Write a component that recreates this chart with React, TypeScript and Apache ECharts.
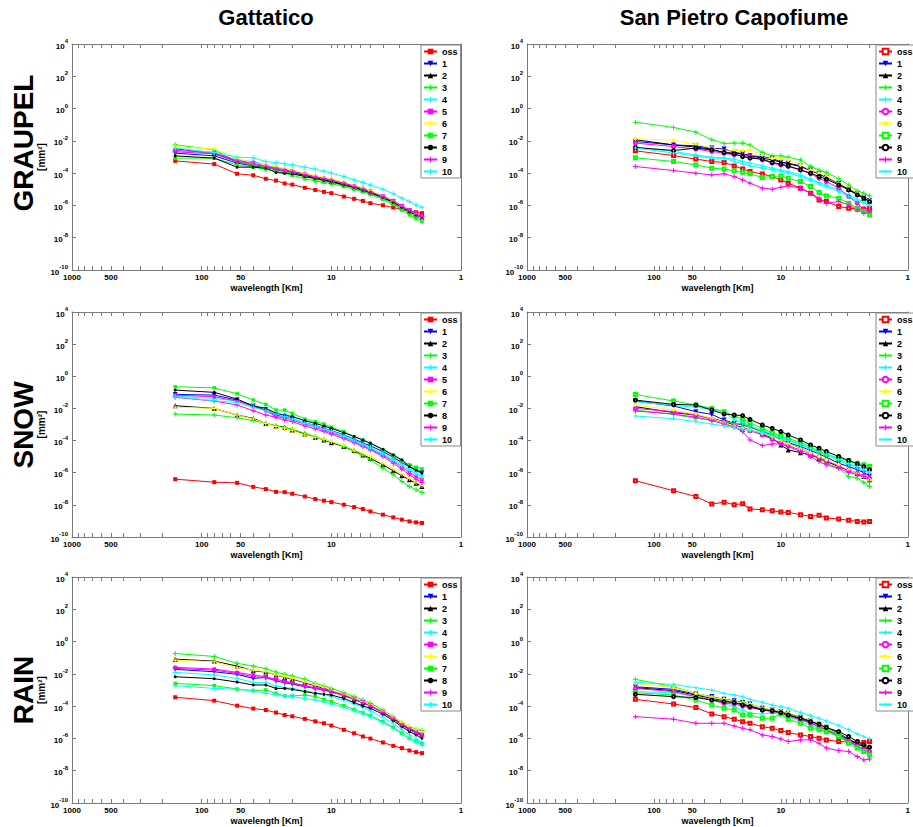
import React, { useEffect, useRef } from "react";
import * as echarts from "echarts";

// ---------- data ----------
const seriesNames = ["oss", "1", "2", "3", "4", "5", "6", "7", "8", "9", "10"];

// wavelengths [Km] of the plotted spectral points
const wavelengthGattatico = [160, 80, 53.3, 40, 32, 26.7, 22.9, 20, 16, 13.3, 11.4, 10, 8, 6.67, 5.71, 5, 4, 3.33, 2.86, 2.5, 2.22, 2];
const wavelengthSanPietro = [140, 70, 46.7, 35, 28, 23.3, 20, 17.5, 14, 11.7, 10, 8.75, 7, 5.83, 5, 4.38, 3.5, 2.92, 2.5, 2.22, 2];

const xLabelValues = [1000, 500, 100, 50, 10, 1];
const xTickValues = [1, 2, 3, 4, 5, 6, 7, 8, 9, 10, 20, 30, 40, 50, 60, 70, 80, 90, 100, 200, 300, 400, 500, 600, 700, 800, 900, 1000];
const yLabelExponents = [4, 2, 0, -2, -4, -6, -8, -10];

// log10 of the spectrum [mm^2]; rows: oss, 1 .. 10
const graupelGattatico = [
  [-3.24, -3.44, -4.04, -4.13, -4.35, -4.46, -4.64, -4.71, -4.91, -5.04, -5.16, -5.24, -5.45, -5.59, -5.72, -5.86, -5.99, -6.13, -6.24, -6.34, -6.42, -6.48],
  [-2.76, -2.93, -3.38, -3.55, -3.63, -3.80, -3.90, -3.96, -4.15, -4.29, -4.42, -4.52, -4.69, -4.87, -5.04, -5.20, -5.49, -5.78, -6.07, -6.34, -6.55, -6.71],
  [-2.49, -2.80, -3.28, -3.49, -3.59, -3.75, -3.88, -3.96, -4.15, -4.29, -4.42, -4.52, -4.69, -4.87, -5.04, -5.20, -5.49, -5.80, -6.11, -6.38, -6.59, -6.75],
  [-2.24, -2.56, -3.28, -3.49, -3.63, -3.75, -3.90, -4.00, -4.21, -4.37, -4.50, -4.58, -4.75, -4.93, -5.10, -5.28, -5.59, -5.91, -6.22, -6.48, -6.69, -6.86],
  [-2.56, -2.76, -3.18, -3.28, -3.49, -3.63, -3.75, -3.88, -4.04, -4.21, -4.31, -4.42, -4.62, -4.79, -4.95, -5.14, -5.45, -5.76, -6.07, -6.34, -6.55, -6.73],
  [-2.60, -2.72, -3.22, -3.34, -3.55, -3.69, -3.80, -3.90, -4.04, -4.21, -4.33, -4.42, -4.62, -4.79, -4.95, -5.12, -5.41, -5.70, -6.01, -6.28, -6.48, -6.65],
  [-2.35, -2.51, -3.07, -3.38, -3.49, -3.59, -3.69, -3.80, -4.00, -4.15, -4.25, -4.35, -4.54, -4.73, -4.89, -5.08, -5.41, -5.72, -6.03, -6.32, -6.55, -6.73],
  [-3.07, -3.07, -3.49, -3.63, -3.75, -3.90, -4.00, -4.13, -4.35, -4.48, -4.58, -4.66, -4.83, -5.00, -5.16, -5.33, -5.62, -5.93, -6.28, -6.59, -6.82, -7.00],
  [-2.93, -3.07, -3.63, -3.63, -3.69, -3.96, -4.00, -4.04, -4.21, -4.33, -4.44, -4.54, -4.73, -4.89, -5.06, -5.22, -5.51, -5.82, -6.13, -6.40, -6.61, -6.75],
  [-2.68, -2.80, -3.28, -3.38, -3.59, -3.75, -3.84, -3.90, -4.11, -4.25, -4.35, -4.44, -4.64, -4.83, -5.00, -5.16, -5.45, -5.74, -6.05, -6.32, -6.53, -6.69],
  [-2.45, -2.72, -3.01, -3.05, -3.28, -3.36, -3.42, -3.49, -3.63, -3.75, -3.88, -4.00, -4.21, -4.42, -4.58, -4.73, -5.00, -5.28, -5.55, -5.76, -5.97, -6.11],
];

const graupelSanPietro = [
  [-2.62, -2.91, -3.13, -3.28, -3.34, -3.55, -3.75, -3.90, -4.06, -4.21, -4.42, -4.62, -4.93, -5.24, -5.66, -5.76, -6.07, -6.17, -6.22, -6.22, -6.17],
  [-2.04, -2.25, -2.31, -2.45, -2.51, -2.70, -2.80, -2.93, -2.97, -3.07, -3.32, -3.38, -3.55, -3.80, -4.04, -4.25, -4.62, -5.00, -5.28, -5.49, -5.70],
  [-1.93, -2.25, -2.39, -2.51, -2.72, -2.76, -2.82, -2.93, -3.07, -3.18, -3.32, -3.42, -3.59, -3.84, -4.06, -4.27, -4.66, -5.00, -5.28, -5.55, -5.76],
  [-0.84, -1.17, -1.46, -1.93, -2.16, -2.14, -2.14, -2.25, -2.72, -2.93, -2.93, -3.01, -3.18, -3.59, -3.80, -3.96, -4.35, -4.73, -5.10, -5.24, -5.41],
  [-2.39, -2.66, -2.87, -3.01, -3.07, -3.13, -3.28, -3.38, -3.55, -3.69, -3.80, -3.90, -4.11, -4.37, -4.58, -4.73, -5.04, -5.35, -5.62, -5.76, -5.91],
  [-2.14, -2.35, -2.51, -2.66, -2.76, -2.87, -2.93, -2.97, -3.18, -3.38, -3.49, -3.59, -3.80, -4.04, -4.31, -4.52, -4.93, -5.45, -5.86, -6.28, -6.38],
  [-1.87, -1.96, -2.20, -2.45, -2.66, -2.60, -2.60, -2.56, -2.87, -3.07, -3.13, -3.18, -3.49, -3.80, -4.00, -4.21, -4.62, -4.93, -5.24, -5.45, -5.66],
  [-3.05, -3.28, -3.49, -3.69, -3.75, -3.86, -3.94, -4.04, -4.27, -4.21, -4.17, -4.31, -4.52, -4.83, -5.20, -5.41, -5.55, -5.86, -6.17, -6.38, -6.59],
  [-2.41, -2.60, -2.45, -2.56, -2.72, -2.80, -2.97, -3.07, -3.13, -3.34, -3.44, -3.55, -3.80, -4.00, -4.21, -4.37, -4.73, -5.04, -5.35, -5.55, -5.76],
  [-3.59, -3.84, -4.00, -4.11, -4.04, -4.21, -4.42, -4.62, -4.93, -5.00, -4.87, -4.79, -4.93, -5.24, -5.55, -5.86, -5.76, -5.97, -6.28, -6.48, -6.38],
  [-2.45, -2.76, -2.93, -3.07, -3.07, -3.28, -3.42, -3.55, -3.69, -3.80, -3.90, -4.00, -4.21, -4.46, -4.66, -4.83, -5.14, -5.45, -5.70, -5.86, -6.03],
];

const snowGattatico = [
  [-6.40, -6.59, -6.63, -6.88, -7.02, -7.19, -7.21, -7.31, -7.48, -7.64, -7.74, -7.83, -7.99, -8.14, -8.26, -8.41, -8.61, -8.78, -8.92, -9.03, -9.09, -9.13],
  [-1.13, -1.17, -1.48, -1.85, -2.10, -2.41, -2.51, -2.66, -2.89, -3.07, -3.24, -3.38, -3.65, -3.92, -4.13, -4.33, -4.68, -5.04, -5.37, -5.62, -5.82, -5.99],
  [-1.83, -2.00, -2.41, -2.62, -2.93, -3.09, -3.17, -3.34, -3.59, -3.79, -3.96, -4.13, -4.37, -4.62, -4.89, -5.10, -5.51, -5.88, -6.19, -6.44, -6.65, -6.86],
  [-2.35, -2.41, -2.58, -2.76, -2.93, -3.09, -3.20, -3.30, -3.55, -3.75, -3.92, -4.06, -4.37, -4.68, -4.95, -5.20, -5.72, -6.13, -6.55, -6.86, -7.06, -7.23],
  [-1.23, -1.38, -1.54, -1.79, -2.00, -2.31, -2.41, -2.62, -2.89, -3.09, -3.26, -3.40, -3.69, -3.96, -4.21, -4.42, -4.79, -5.16, -5.47, -5.76, -5.97, -6.17],
  [-1.17, -1.27, -1.54, -1.89, -2.14, -2.51, -2.58, -2.72, -2.99, -3.17, -3.34, -3.51, -3.79, -4.06, -4.31, -4.52, -4.91, -5.30, -5.66, -5.97, -6.24, -6.44],
  [-1.93, -2.00, -2.41, -2.66, -2.93, -3.13, -3.24, -3.38, -3.65, -3.79, -3.92, -4.06, -4.31, -4.58, -4.79, -4.99, -5.41, -5.76, -6.07, -6.34, -6.59, -6.79],
  [-0.65, -0.72, -1.09, -1.48, -1.75, -2.10, -2.10, -2.31, -2.66, -2.82, -2.97, -3.17, -3.44, -3.75, -3.96, -4.17, -4.58, -4.95, -5.26, -5.51, -5.66, -5.76],
  [-0.86, -1.00, -1.42, -1.85, -2.00, -2.31, -2.41, -2.51, -2.76, -2.93, -3.09, -3.24, -3.51, -3.75, -3.96, -4.17, -4.54, -4.89, -5.20, -5.62, -5.86, -6.03],
  [-1.31, -1.54, -1.79, -2.14, -2.41, -2.55, -2.72, -2.82, -3.09, -3.28, -3.44, -3.59, -3.88, -4.13, -4.37, -4.58, -4.99, -5.41, -5.78, -6.13, -6.40, -6.61],
  [-1.27, -1.52, -1.64, -1.93, -2.14, -2.35, -2.51, -2.68, -2.93, -3.13, -3.30, -3.44, -3.75, -4.02, -4.27, -4.48, -4.85, -5.24, -5.57, -5.86, -6.07, -6.28],
];

const snowSanPietro = [
  [-6.50, -7.12, -7.48, -7.95, -7.83, -7.99, -7.93, -8.26, -8.30, -8.37, -8.45, -8.47, -8.61, -8.72, -8.65, -8.82, -8.88, -8.96, -9.03, -9.07, -9.03],
  [-1.54, -1.85, -2.20, -2.37, -2.72, -2.93, -3.03, -3.17, -3.44, -3.65, -3.96, -4.13, -4.37, -4.62, -4.83, -5.04, -5.41, -5.62, -5.82, -5.99, -6.19],
  [-1.89, -2.26, -2.41, -2.62, -2.82, -3.03, -3.20, -3.34, -3.59, -3.86, -4.27, -4.58, -4.75, -4.89, -5.10, -5.30, -5.62, -5.86, -6.07, -6.24, -6.44],
  [-2.10, -2.37, -2.62, -2.72, -2.82, -2.93, -2.97, -3.13, -3.44, -3.75, -3.96, -4.17, -4.48, -4.79, -5.10, -5.41, -5.72, -6.24, -6.34, -6.61, -6.86],
  [-1.58, -1.81, -1.93, -2.06, -2.22, -2.72, -2.89, -3.09, -3.38, -3.59, -3.79, -3.96, -4.23, -4.52, -4.75, -4.91, -5.24, -5.51, -5.72, -5.86, -6.03],
  [-2.00, -2.20, -2.41, -2.68, -2.89, -3.09, -3.24, -3.38, -3.65, -3.92, -4.13, -4.33, -4.58, -4.83, -5.04, -5.24, -5.57, -5.82, -6.03, -6.19, -6.34],
  [-1.79, -2.10, -2.35, -2.62, -2.89, -3.09, -3.24, -3.34, -3.55, -3.75, -4.00, -4.21, -4.54, -4.79, -4.99, -5.20, -5.51, -5.82, -6.07, -6.24, -6.44],
  [-1.13, -1.54, -1.79, -2.00, -2.20, -2.47, -2.68, -2.89, -3.24, -3.51, -3.71, -3.86, -4.13, -4.37, -4.68, -4.83, -5.10, -5.26, -5.41, -5.51, -5.62],
  [-1.48, -1.75, -1.79, -2.10, -2.35, -2.41, -2.45, -2.68, -3.03, -3.24, -3.44, -3.65, -3.96, -4.27, -4.48, -4.68, -4.99, -5.24, -5.45, -5.62, -5.82],
  [-2.16, -2.35, -2.55, -2.76, -2.97, -3.17, -3.44, -3.96, -4.31, -4.21, -4.21, -4.37, -4.68, -4.99, -5.30, -5.51, -5.72, -5.99, -6.13, -6.24, -6.55],
  [-2.47, -2.64, -2.82, -2.97, -3.09, -3.20, -3.28, -3.38, -3.51, -3.71, -3.86, -4.00, -4.27, -4.48, -4.68, -4.83, -5.16, -5.41, -5.62, -5.78, -5.93],
];

const rainGattatico = [
  [-3.45, -3.66, -3.97, -4.15, -4.24, -4.40, -4.55, -4.63, -4.79, -4.94, -5.06, -5.20, -5.47, -5.68, -5.88, -6.01, -6.25, -6.46, -6.60, -6.75, -6.85, -6.91],
  [-1.72, -1.87, -2.03, -2.28, -2.22, -2.43, -2.55, -2.63, -2.80, -2.90, -3.00, -3.10, -3.31, -3.58, -3.78, -3.99, -4.38, -4.79, -5.16, -5.43, -5.64, -5.82],
  [-1.09, -1.21, -1.52, -1.81, -1.89, -2.07, -2.22, -2.32, -2.55, -2.75, -2.90, -3.04, -3.31, -3.58, -3.78, -3.97, -4.38, -4.75, -5.10, -5.37, -5.58, -5.72],
  [-0.74, -0.92, -1.35, -1.52, -1.68, -1.89, -2.03, -2.14, -2.32, -2.59, -2.75, -2.90, -3.17, -3.41, -3.62, -3.82, -4.24, -4.65, -5.00, -5.27, -5.43, -5.51],
  [-1.91, -2.07, -2.28, -2.53, -2.53, -2.75, -2.84, -2.90, -3.04, -3.17, -3.27, -3.41, -3.62, -3.87, -4.07, -4.28, -4.69, -5.06, -5.47, -5.78, -6.03, -6.25],
  [-1.60, -1.70, -1.91, -2.07, -2.18, -2.34, -2.45, -2.55, -2.73, -2.86, -2.96, -3.06, -3.27, -3.52, -3.74, -3.95, -4.34, -4.73, -5.10, -5.37, -5.58, -5.72],
  [-1.15, -1.25, -1.62, -1.77, -1.87, -2.07, -2.18, -2.28, -2.51, -2.69, -2.84, -3.00, -3.25, -3.50, -3.72, -3.91, -4.30, -4.67, -5.02, -5.27, -5.47, -5.60],
  [-2.59, -2.73, -2.94, -3.04, -3.00, -3.21, -3.37, -3.37, -3.31, -3.41, -3.58, -3.72, -3.97, -4.20, -4.40, -4.59, -4.96, -5.31, -5.68, -5.99, -6.19, -6.36],
  [-2.18, -2.30, -2.51, -2.69, -2.69, -2.90, -2.90, -2.96, -3.10, -3.21, -3.27, -3.31, -3.52, -3.78, -3.99, -4.13, -4.50, -4.90, -5.27, -5.58, -5.78, -5.99],
  [-1.66, -1.77, -1.97, -2.18, -2.22, -2.43, -2.51, -2.59, -2.75, -2.90, -3.00, -3.13, -3.35, -3.58, -3.78, -3.99, -4.40, -4.81, -5.18, -5.47, -5.68, -5.84],
  [-2.73, -2.90, -2.96, -3.04, -3.21, -3.29, -3.37, -3.41, -3.52, -3.62, -3.74, -3.87, -4.07, -4.30, -4.48, -4.65, -5.02, -5.37, -5.72, -6.03, -6.23, -6.40],
];

const rainSanPietro = [
  [-3.58, -3.87, -4.09, -4.48, -4.65, -4.81, -4.96, -5.06, -5.27, -5.37, -5.51, -5.64, -5.78, -5.88, -5.99, -6.09, -6.19, -6.23, -6.25, -6.25, -6.19],
  [-2.80, -2.96, -3.25, -3.41, -3.58, -3.66, -3.78, -3.87, -4.13, -4.24, -4.34, -4.44, -4.69, -4.92, -5.12, -5.31, -5.68, -6.05, -6.30, -6.50, -6.71],
  [-2.86, -3.04, -3.31, -3.52, -3.66, -3.78, -3.87, -3.99, -4.20, -4.28, -4.40, -4.55, -4.81, -5.02, -5.27, -5.47, -5.78, -6.09, -6.36, -6.50, -6.71],
  [-2.34, -2.80, -3.21, -3.45, -3.62, -3.72, -3.78, -3.87, -4.13, -4.24, -4.34, -4.48, -4.75, -5.00, -5.20, -5.43, -5.78, -6.19, -6.46, -6.71, -6.91],
  [-3.10, -3.17, -3.41, -3.62, -3.87, -4.03, -4.24, -4.44, -4.48, -4.40, -4.55, -4.65, -4.96, -5.16, -5.37, -5.58, -5.88, -6.25, -6.50, -6.71, -6.87],
  [-2.90, -3.10, -3.41, -3.62, -3.82, -3.87, -3.99, -4.09, -4.24, -4.34, -4.44, -4.61, -4.85, -5.06, -5.27, -5.47, -5.88, -6.19, -6.46, -6.67, -6.81],
  [-2.59, -2.86, -3.21, -3.45, -3.58, -3.72, -3.78, -3.87, -4.13, -4.20, -4.28, -4.40, -4.65, -4.85, -5.06, -5.27, -5.58, -5.88, -6.19, -6.40, -6.60],
  [-3.17, -3.31, -3.62, -3.93, -4.13, -4.24, -4.55, -4.55, -4.75, -4.75, -4.48, -4.81, -5.06, -5.37, -5.47, -5.58, -5.88, -6.30, -6.60, -6.81, -7.02],
  [-3.27, -3.41, -3.47, -3.62, -3.72, -3.78, -3.93, -4.03, -4.24, -4.28, -4.40, -4.55, -4.75, -4.96, -5.12, -5.33, -5.58, -5.88, -6.19, -6.40, -6.54],
  [-4.65, -4.81, -5.06, -5.06, -5.06, -5.23, -5.37, -5.47, -5.78, -5.88, -6.03, -6.19, -6.09, -6.09, -6.30, -6.60, -6.75, -6.81, -7.12, -7.33, -7.28],
  [-2.53, -2.65, -2.86, -3.00, -3.21, -3.31, -3.41, -3.58, -3.76, -3.93, -4.03, -4.13, -4.40, -4.59, -4.75, -4.92, -5.20, -5.47, -5.72, -5.88, -6.03],
];

// ---------- styling ----------
const FONT = "'Liberation Sans', Arial, Helvetica, sans-serif";
const AXIS_COLOR = "#7a7a7a";
const colors = ["#ff0000", "#0000ff", "#000000", "#00ff00", "#00ffff", "#ff00ff", "#ffff00", "#00ff00", "#000000", "#ff00ff", "#00ffff"];
const CROSS = "path://M4,0H6V4H10V6H6V10H4V6H0V4H4Z";
const STAR = "path://M5,0L6,4L10,5L6,6L5,10L4,6L0,5L4,4Z";

type Mk = { s: string; size: number; rot?: number; empty?: boolean };
const markersLeft: Mk[] = [
  { s: "rect", size: 4 },
  { s: "triangle", size: 5, rot: 180 },
  { s: "triangle", size: 5 },
  { s: CROSS, size: 5 },
  { s: CROSS, size: 5 },
  { s: "rect", size: 3.5 },
  { s: CROSS, size: 5 },
  { s: "rect", size: 3.5 },
  { s: "circle", size: 3 },
  { s: CROSS, size: 5 },
  { s: CROSS, size: 5 },
];
const markersRight: Mk[] = [
  { s: "emptyRect", size: 3, empty: true },
  { s: "triangle", size: 5, rot: 180 },
  { s: "triangle", size: 5 },
  { s: CROSS, size: 5 },
  { s: CROSS, size: 5 },
  { s: "emptyCircle", size: 3, empty: true },
  { s: "diamond", size: 4.5 },
  { s: "emptyRect", size: 3, empty: true },
  { s: "emptyCircle", size: 3, empty: true },
  { s: CROSS, size: 5 },
  { s: STAR, size: 6 },
];

const gridLeft = [72, 527];
const gridTop = [44, 312, 577];
const gridHeight = [226, 225, 226];
const GRID_W = 389;
const legendLeft = [421, 876];
const legendTop = [45, 313, 578];

const panels = [
  { table: graupelGattatico, wl: wavelengthGattatico, col: 0, row: 0 },
  { table: graupelSanPietro, wl: wavelengthSanPietro, col: 1, row: 0 },
  { table: snowGattatico, wl: wavelengthGattatico, col: 0, row: 1 },
  { table: snowSanPietro, wl: wavelengthSanPietro, col: 1, row: 1 },
  { table: rainGattatico, wl: wavelengthGattatico, col: 0, row: 2 },
  { table: rainSanPietro, wl: wavelengthSanPietro, col: 1, row: 2 },
];

function buildOption() {
  const grid: any[] = [];
  const xAxis: any[] = [];
  const yAxis: any[] = [];
  const series: any[] = [];
  const legend: any[] = [];
  const yVals = yLabelExponents.map((e) => Math.pow(10, e));

  panels.forEach((p, i) => {
    grid.push({ left: gridLeft[p.col], top: gridTop[p.row], width: GRID_W, height: gridHeight[p.row], show: false });
    const xBase = {
      type: "log",
      logBase: 10,
      gridIndex: i,
      min: 1,
      max: 1000,
      inverse: true,
      axisLine: { show: true, onZero: false, lineStyle: { color: AXIS_COLOR, width: 1 } },
      axisTick: { show: true, inside: true, length: 4, customValues: xTickValues, lineStyle: { color: AXIS_COLOR } },
      splitLine: { show: false },
      minorTick: { show: false },
    };
    xAxis.push({
      ...xBase,
      position: "bottom",
      axisLabel: {
        show: true,
        customValues: xLabelValues,
        formatter: (v: number) => String(Math.round(v)),
        fontSize: 8,
        fontWeight: "bold",
        color: "#000",
        fontFamily: FONT,
        margin: 3,
      },
      name: "wavelength [Km]",
      nameLocation: "middle",
      nameGap: 13,
      nameTextStyle: { fontSize: 9, fontWeight: "bold", color: "#000", fontFamily: FONT },
    });
    xAxis.push({ ...xBase, position: "top", axisLabel: { show: false } });

    const yBase = {
      type: "log",
      logBase: 10,
      gridIndex: i,
      min: 1e-10,
      max: 1e4,
      axisLine: { show: true, onZero: false, lineStyle: { color: AXIS_COLOR, width: 1 } },
      axisTick: { show: true, inside: true, length: 4, customValues: yVals, lineStyle: { color: AXIS_COLOR } },
      splitLine: { show: false },
      minorTick: { show: false },
    };
    yAxis.push({
      ...yBase,
      position: "left",
      axisLabel: {
        show: true,
        customValues: yVals,
        margin: 4,
        formatter: (v: number) => `{b|10}{s|${Math.round(Math.log10(v))}}`,
        rich: {
          b: { fontSize: 8, fontWeight: "bold", color: "#000", fontFamily: FONT, lineHeight: 12, verticalAlign: "bottom" },
          s: { fontSize: 6, fontWeight: "bold", color: "#000", fontFamily: FONT, lineHeight: 12, verticalAlign: "top" },
        },
      },
      name: p.col === 0 ? "[mm²]" : "",
      nameLocation: "middle",
      nameRotate: 90,
      nameGap: 25,
      nameTextStyle: { fontSize: 10, fontWeight: "bold", color: "#000", fontFamily: FONT },
    });
    yAxis.push({ ...yBase, position: "right", axisLabel: { show: false } });

    const markers = p.col === 0 ? markersLeft : markersRight;
    const names: string[] = [];
    p.table.forEach((row, si) => {
      const mk = markers[si];
      const nm = `${i}|${seriesNames[si]}`;
      names.push(nm);
      series.push({
        type: "line",
        name: nm,
        xAxisIndex: 2 * i,
        yAxisIndex: 2 * i,
        data: p.wl.map((w, j) => [w, Math.pow(10, row[j])]),
        symbol: mk.s,
        symbolSize: mk.size,
        symbolRotate: mk.rot || 0,
        showSymbol: true,
        silent: true,
        lineStyle: { width: 1, color: colors[si] },
        itemStyle: { color: colors[si], borderColor: colors[si], borderWidth: mk.empty ? 0.8 : 0 },
        emphasis: { disabled: true },
      });
    });
    legend.push({
      show: true,
      orient: "vertical",
      left: legendLeft[p.col],
      top: legendTop[p.row],
      data: names,
      formatter: (n: string) => n.split("|")[1],
      itemWidth: 13,
      itemHeight: 7,
      itemGap: 3,
      padding: [2, 3, 2, 2],
      backgroundColor: "#fff",
      borderColor: "#888",
      borderWidth: 1,
      borderRadius: 0,
      selectedMode: false,
      textStyle: { fontSize: 9, fontWeight: "bold", color: "#000", fontFamily: FONT, lineHeight: 9 },
    });
  });

  const titleFont = `bold 22px ${FONT}`;
  const rowFont = `bold 28px ${FONT}`;
  const txt = (text: string, x: number, y: number, font: string, rotation = 0) => ({
    type: "text",
    x,
    y,
    rotation,
    silent: true,
    style: { text, font, fill: "#000", textAlign: "center", textVerticalAlign: "middle", align: "center", verticalAlign: "middle" },
  });

  return {
    animation: false,
    backgroundColor: "#fff",
    grid,
    xAxis,
    yAxis,
    series,
    legend,
    graphic: [
      txt("Gattatico", 266, 17, titleFont),
      txt("San Pietro Capofiume", 734, 17, titleFont),
      txt("GRAUPEL", 23, 143, rowFont, Math.PI / 2),
      txt("SNOW", 23, 425, rowFont, Math.PI / 2),
      txt("RAIN", 23, 690, rowFont, Math.PI / 2),
    ],
  };
}

export default function App() {
  const ref = useRef<HTMLDivElement>(null);
  useEffect(() => {
    if (!ref.current) return;
    const chart = echarts.init(ref.current, null, { renderer: "svg" });
    chart.setOption(buildOption() as any);
    return () => chart.dispose();
  }, []);
  return (
    <div
      ref={ref}
      style={{ position: "fixed", left: 0, top: 0, width: 913, height: 827, background: "#fff" }}
    />
  );
}
